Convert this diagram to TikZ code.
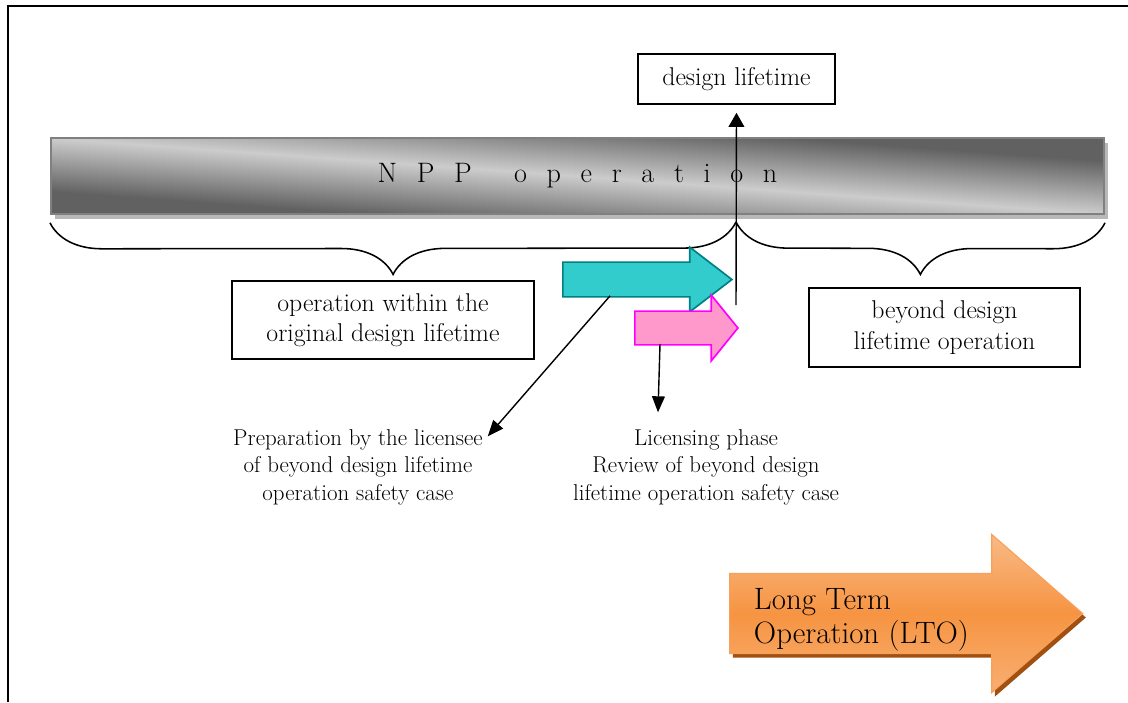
\documentclass[tikz,border=0pt]{standalone}
\usepackage{tikz}
\usetikzlibrary{shapes.arrows, arrows.meta, positioning, decorations.pathreplacing, shadows}

\definecolor{aquafill}{RGB}{51,204,204}
\definecolor{aquaedge}{RGB}{0,128,128}
\definecolor{pinkfill}{RGB}{255,153,204}
\definecolor{pinkedge}{RGB}{255,0,255}
\definecolor{ltofill}{RGB}{246,148,66}
\definecolor{ltolight}{RGB}{249,186,134}
\definecolor{ltoedge}{RGB}{248,160,90}
\definecolor{ltoshadow}{RGB}{160,80,16}

\newcommand{\ls}{\hspace{14pt}}

\begin{document}
\begin{tikzpicture}[x=0.025cm, y=-0.025cm,
	font=\fontsize{18.3}{21.5}\selectfont,
	box/.style = {rectangle, draw, line width=1.1pt, align=center, inner sep=2pt},
	note/.style = {align=center, font=\fontsize{16.3}{19.5}\selectfont},
	bar/.style = {rectangle, draw=black!50, line width=1.2pt,
		minimum width=26.325cm, minimum height=1.9cm, font=\fontsize{20}{24}\selectfont},
	phase/.style = {single arrow, anchor=tail, inner xsep=0pt, line width=1.2pt},
	line/.style = {-{Triangle[length=4mm, width=3.2mm]}, line width=1pt},
	curly/.style = {decorate, decoration={brace, mirror, amplitude=1.3cm}, line width=1.1pt}
	]
	\useasboundingbox (0,0) rectangle (1128,702);

	% --- Marco ---
	\draw[line width=1.3pt] (8,702) -- (8,6) -- (1128,6);

	% --- Barra de operacion (sombra, degradado, texto) ---
	\fill[black!28] (55,143) rectangle (1108,219);
	\begin{scope}[transform canvas={shift={(577.5,176)}, xscale=13.855}]
		\shade[top color=black!62, bottom color=black!62, middle color=black!20, shading angle=-45]
			(-38,-38) rectangle (38,38);
	\end{scope}
	\node[bar] (npp) at (577.5,176) {N\ls P\ls P\hspace{30pt}o\ls p\ls e\ls r\ls a\ls t\ls i\ls o\ls n};
	\node[box, minimum width=4.925cm, minimum height=1.25cm] (design) at (736.5,79) {design lifetime};

	% --- Llaves ---
	\coordinate (split) at (736,222);
	\draw[curly] ([yshift=-0.2cm]npp.south west) -- (split);
	\draw[curly] (split) -- ([yshift=-0.2cm]npp.south east);

	\node[box, minimum width=7.55cm, minimum height=1.95cm] (within) at (383,320) {operation within the\\original design lifetime};
	\node[box, minimum width=6.775cm, minimum height=1.975cm] (beyond) at (944.5,327.5) {beyond design\\lifetime operation};

	% --- Fases ---
	\coordinate (dlfoot) at (736,305);
	\draw[line, -{Triangle[length=3.5mm, width=3.9mm]}, shorten >=0.2cm] (dlfoot) -- (design.south);

	\node[phase, fill=aquafill, draw=aquaedge, minimum height=4.225cm, inner ysep=0.4125cm,
		single arrow head extend=0.375cm, single arrow tip angle=75] (prepare) at (562,279.5) {};
	\node[phase, fill=pinkfill, draw=pinkedge, minimum height=2.575cm, inner ysep=0.4cm,
		single arrow head extend=0.4cm, single arrow tip angle=102] (review) at (634,328) {};

	\node[note] (prepnote) at (358,467) {Preparation by the licensee\\of beyond design lifetime\\operation safety case};
	\node[note] (licnote) at (706,467) {Licensing phase\\Review of beyond design\\lifetime operation safety case};

	\draw[line] ([xshift=1.2cm, yshift=-0.41cm]prepare.tail) -- ([yshift=-0.3cm]prepnote.north east);
	\draw[line] ([xshift=0.65cm, yshift=-0.4cm]review.tail) -- ([xshift=-1.2cm, yshift=0.3cm]licnote.north);

	% --- LTO ---
	\node[phase, minimum height=8.825cm, inner ysep=0.9875cm, line width=0.8pt,
		single arrow head extend=0.975cm, single arrow tip angle=82, draw=ltoedge,
		top color=ltolight, bottom color=ltolight!70!ltofill, middle color=ltofill,
		drop shadow={shadow xshift=0.08cm, shadow yshift=-0.1cm, fill=ltoshadow, opacity=1}] (lto) at (729,613.5) {};
	\node[anchor=west, align=left, font=\fontsize{22}{24}\selectfont] (ltotext) at ([xshift=0.5cm, yshift=-0.15cm]lto.tail) {Long Term\\Operation (LTO)};

\end{tikzpicture}
\end{document}
